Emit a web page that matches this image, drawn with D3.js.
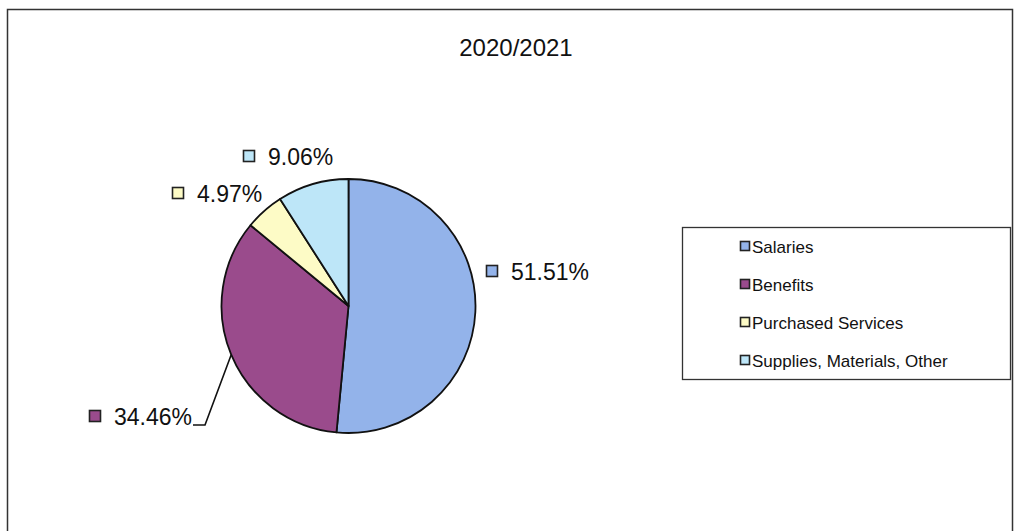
<!DOCTYPE html>
<html>
<head>
<meta charset="utf-8">
<script src="https://cdn.jsdelivr.net/npm/d3@7"></script>
<style>
  html, body { margin: 0; padding: 0; background: #fff; }
  svg { display: block; font-family: "Liberation Sans", Arial, sans-serif; }
</style>
</head>
<body>
<svg id="chart" width="1018" height="531"></svg>
<script>
// Expenditure shares, 2020/2021
const title = "2020/2021";
const categories = ["Salaries", "Benefits", "Purchased Services", "Supplies, Materials, Other"];
const shares = [51.51, 34.46, 4.97, 9.06];
const colors = ["#93b3ea", "#9a4b8c", "#fdfbc6", "#bde6f8"];

const svg = d3.select("#chart");

// outer chart frame
svg.append("rect")
  .attr("x", 7.5).attr("y", 9.5)
  .attr("width", 1005).attr("height", 540)
  .attr("fill", "none").attr("stroke", "#333").attr("stroke-width", 1.5);

svg.append("text")
  .attr("x", 516).attr("y", 56)
  .attr("text-anchor", "middle")
  .attr("font-size", 24)
  .attr("fill", "#111")
  .text(title);

// pie, starting at 12 o'clock and running clockwise
const cx = 348.5, cy = 306, R = 127;
const data = categories.map((c, i) => ({ name: c, value: shares[i], color: colors[i] }));
const pie = d3.pie().sort(null).value(d => d.value).startAngle(0).endAngle(2 * Math.PI);
const arcs = pie(data);
const arc = d3.arc().innerRadius(0).outerRadius(R);

const g = svg.append("g").attr("transform", `translate(${cx},${cy})`);
g.selectAll("path.slice")
  .data(arcs)
  .join("path")
  .attr("class", "slice")
  .attr("d", arc)
  .attr("fill", d => d.data.color)
  .attr("stroke", "#111")
  .attr("stroke-width", 1.8)
  .attr("stroke-linejoin", "round");

// data labels: a small colour key box followed by the percentage
const labelPos = {
  "Salaries": { x: 486, y: 265 },
  "Benefits": { x: 89, y: 410 },
  "Purchased Services": { x: 172, y: 187 },
  "Supplies, Materials, Other": { x: 243, y: 150 }
};
const fmt = v => v.toFixed(2) + "%";

arcs.forEach(a => {
  const p = labelPos[a.data.name];
  svg.append("rect")
    .attr("x", p.x + 0.5).attr("y", p.y + 0.5)
    .attr("width", 11).attr("height", 11)
    .attr("fill", a.data.color)
    .attr("stroke", "#222").attr("stroke-width", 1.6);
  svg.append("text")
    .attr("x", p.x + 25).attr("y", p.y + 15)
    .attr("font-size", 23)
    .attr("fill", "#111")
    .text(fmt(a.data.value));
});

// leader line from the Benefits label to the middle of its slice rim
{
  const b = arcs[1];
  const mid = (b.startAngle + b.endAngle) / 2;
  const ex = cx + R * Math.sin(mid), ey = cy - R * Math.cos(mid);
  svg.append("path")
    .attr("d", `M193,425 L205,425 L${ex},${ey}`)
    .attr("fill", "none")
    .attr("stroke", "#111")
    .attr("stroke-width", 1.6);
}

// legend
const lg = svg.append("g");
lg.append("rect")
  .attr("x", 682.5).attr("y", 227.5)
  .attr("width", 328).attr("height", 152)
  .attr("fill", "#fff").attr("stroke", "#333").attr("stroke-width", 1.3);

const legendY = d3.scalePoint().domain(categories).range([246, 360]);
const items = lg.selectAll("g.item").data(data).join("g").attr("class", "item")
  .attr("transform", d => `translate(740,${legendY(d.name)})`);
items.append("rect")
  .attr("x", 0.5).attr("y", -4.5)
  .attr("width", 9).attr("height", 9)
  .attr("fill", d => d.color)
  .attr("stroke", "#222").attr("stroke-width", 1.6);
items.append("text")
  .attr("x", 12).attr("y", 6.5)
  .attr("font-size", 17)
  .attr("fill", "#111")
  .text(d => d.name);
</script>
</body>
</html>
